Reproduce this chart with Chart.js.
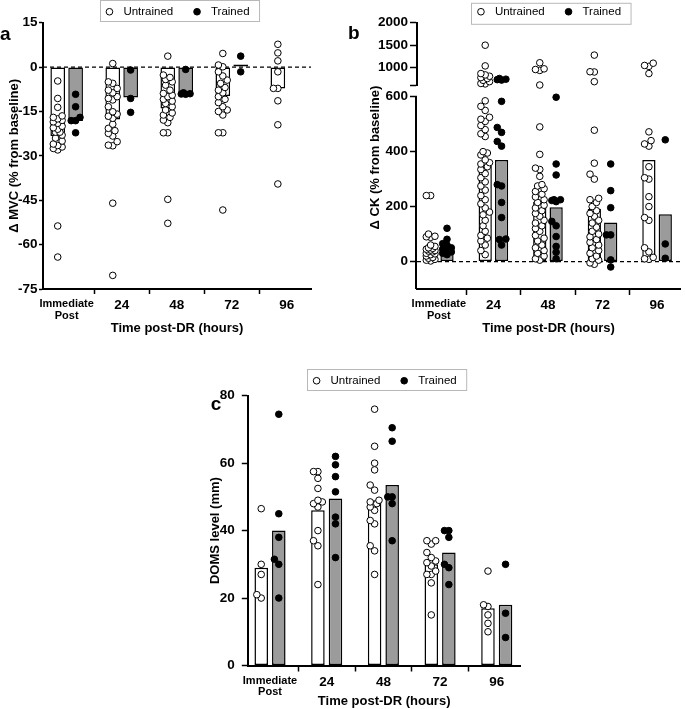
<!DOCTYPE html>
<html>
<head>
<meta charset="utf-8">
<title>Muscle damage after downhill running</title>
<script src="https://cdn.jsdelivr.net/npm/chart.js@4.4.1/dist/chart.umd.min.js"></script>
<style>
  html, body { margin: 0; padding: 0; background: #fff; }
  #figure { position: relative; width: 685px; height: 709px; overflow: hidden; }
  .panel { position: absolute; }
  .panel canvas { display: block; }
</style>
</head>
<body>
<div id="figure">
  <div class="panel" style="left:0;top:0"><canvas id="mvcChart" width="340" height="340"></canvas></div>
  <div class="panel" style="left:340px;top:0"><canvas id="ckChart" width="345" height="340"></canvas></div>
  <div class="panel" style="left:180px;top:369px"><canvas id="domsChart" width="360" height="340"></canvas></div>
</div>
<script>
"use strict";

const FONT = "'Liberation Sans', Arial, Helvetica, sans-serif";
const GREY = "#9b9b9b";

// ---------- Data ----------
const timePoints = ["Immediate Post", "24", "48", "72", "96"];
const groupNames = ["Untrained", "Trained"];

// (a) change in MVC, % from baseline
const mvcTicks = [-75, -60, -45, -30, -15, 0, 15];
const mvcMeanUntrained = [-23.3, -17.7, -14, -9.8, -7.2];
const mvcMeanTrained = [-18.2, -10.3, -9, 0.9, null];
const mvcUntrained = [
  [-4.7, -10.6, -13.6, -16.5, -17, -17.5, -18, -18.5, -19, -20, -20.5, -21, -22, -22, -23, -24, -25, -26, -26.5, -27, -27.5, -28, -53.7, -64.2],
  [1.2, -5, -5.5, -7.2, -7.8, -8.7, -10, -10.6, -11.1, -13.4, -15.1, -15.9, -16.6, -17.3, -19.3, -20.7, -21.5, -22.4, -23.3, -25.2, -26.4, -26.6, -46, -70.4],
  [3.7, -2.7, -3.5, -4.2, -5, -6.1, -7.8, -8.9, -9.5, -10, -10.9, -11.5, -12.3, -13.4, -14.5, -15.5, -16.2, -17, -17.9, -18.8, -22.2, -22.2, -44.7, -52.8],
  [4.6, 0.7, 0.1, -1.6, -3, -4.4, -5.5, -6.9, -7.8, -8.7, -10, -10.9, -12, -13.4, -14.5, -15, -16.2, -22.2, -22.2, -48.3],
  [7.7, 4.8, 2.1, -1.6, -7.2, -7.2, -11.4, -19.5, -39.5]
];
const mvcTrained = [
  [-9.2, -13.4, -17, -18.1, -18.1, -22.2],
  [-1, -10.6, -15.3],
  [-0.8, -8.7, -9, -9.1, -9.2],
  [3.7, -1.6],
  []
];

// (b) change in CK, % from baseline (broken axis above 600)
const ckTicksLow = [0, 200, 400, 600];
const ckTicksHigh = [1000, 1500, 2000];
const ckBreak = 600;
const ckMeanUntrained = [46, 349, 218, 192, 370];
const ckMeanTrained = [49, 370, 198, 142, 172];
const ckUntrained = [
  [240, 240, 100, 92, 90, 88, 60, 55, 50, 48, 45, 42, 40, 38, 35, 30, 28, 25, 20, 15, 12, 8, 5, 2],
  [1500, 1040, 870, 840, 810, 780, 760, 720, 690, 650, 640, 585, 565, 550, 525, 518, 510, 495, 480, 465, 455, 400, 395, 388, 370, 360, 355, 345, 335, 320, 305, 290, 275, 260, 240, 225, 210, 195, 180, 170, 150, 130, 110, 95, 85, 75, 60, 40, 25],
  [1110, 975, 960, 940, 615, 490, 390, 340, 335, 310, 280, 275, 265, 255, 245, 235, 225, 215, 205, 195, 185, 175, 165, 150, 140, 130, 120, 110, 95, 85, 75, 60, 50, 40, 30, 20, 10, 5],
  [1280, 910, 905, 690, 478, 358, 318, 300, 230, 225, 215, 200, 185, 175, 165, 150, 140, 125, 110, 100, 90, 80, 70, 60, 50, 40, 30, 20, 10, 5, -5, -10],
  [1100, 1050, 1030, 870, 472, 440, 428, 420, 345, 305, 300, 236, 200, 160, 150, 50, 35, 15, 10, 8]
];
const ckTrained = [
  [121, 81, 65, 60, 50, 45, 40, 35, 30, 25],
  [760, 745, 735, 725, 583, 488, 470, 437, 420, 280, 275, 215, 160, 82, 80, 60],
  [598, 355, 315, 225, 222, 218, 225, 146, 130, 91, 55, 34, 10],
  [355, 258, 196, 97, 97, 6, -20],
  [443, 64, 12]
];

// (c) DOMS level, mm
const domsTicks = [0, 20, 40, 60, 80];
const domsMeanUntrained = [29, 46, 49, 30, 17];
const domsMeanTrained = [40, 49.5, 53.5, 33.5, 18];
const domsUntrained = [
  [46.5, 30, 27, 21, 20],
  [57.5, 57.5, 55.5, 52.5, 49, 48.5, 48, 47, 40, 37, 35.5, 24],
  [76, 65, 60, 58, 53.5, 52, 49, 48.5, 48, 47, 46, 43, 42, 35.5, 34, 27],
  [37, 37, 36, 33.5, 32, 31, 30.5, 29.5, 28, 27, 27, 24.5, 15],
  [28, 18, 17.5, 15, 12.5, 10]
];
const domsTrained = [
  [74.5, 45, 38, 31.5, 30, 20],
  [62, 59.5, 56, 51.5, 44, 42, 32],
  [70.5, 66.5, 50, 50, 48, 37],
  [40, 40, 38, 30, 29, 24],
  [30, 15.5, 8.3]
];

// ---------- Helpers ----------
function timeLabel(v) {
  const t = timePoints[v];
  return t && t.includes(" ") ? t.split(" ") : t;
}

function xAxis(o) {
  return {
    type: "linear", min: o.min, max: o.max, offset: false,
    afterBuildTicks: s => { s.ticks = timePoints.map((_, i) => ({ value: i })); },
    afterFit: s => { s.height = o.height; },
    ticks: {
      autoSkip: false, maxRotation: 0, padding: o.labelPad, color: "#000",
      font: c => ({ family: FONT, weight: "bold", size: c.index === 0 ? 11 : 13.5, lineHeight: 1.05 }),
      callback: v => timeLabel(v)
    },
    grid: { drawOnChartArea: false, drawTicks: true, tickLength: o.tickLen, tickWidth: 1.5, tickColor: "#000" },
    border: { color: "#000", width: 2 },
    title: {
      display: true, text: "Time post-DR (hours)", color: "#000",
      font: { family: FONT, weight: "bold", size: 13 }, padding: { top: 0, bottom: o.titlePad }
    }
  };
}

function yAxis(o) {
  return {
    type: "linear", position: "left", min: o.min, max: o.max,
    stack: o.stack, stackWeight: o.weight,
    afterBuildTicks: s => { s.ticks = o.ticks.map(value => ({ value })); },
    afterFit: s => { s.width = o.width; },
    ticks: {
      autoSkip: false, padding: o.labelPad, color: "#000",
      font: { family: FONT, weight: "bold", size: 13.5 },
      callback: v => (o.blank && o.blank.includes(v) ? "" : v)
    },
    grid: { drawOnChartArea: false, drawTicks: true, tickLength: o.tickLen, tickWidth: 1.5, tickColor: "#000" },
    border: { display: o.border !== false, color: "#000", width: 2 },
    title: o.title ? {
      display: true, text: o.title, align: o.titleAlign || "center", color: "#000",
      font: { family: FONT, weight: "bold", size: 13 }, padding: { top: o.titlePad, bottom: 0 }
    } : { display: false }
  };
}

function barDataset(values, fill, cp, bp) {
  return {
    type: "bar", label: "", data: values.map((y, i) => ({ x: i, y })),
    backgroundColor: fill, borderColor: "#000", borderWidth: 1.5, borderSkipped: false,
    categoryPercentage: cp, barPercentage: bp, order: 3
  };
}

function pointDataset(label, fill, yAxisID) {
  return {
    type: "scatter", label, data: [], yAxisID: yAxisID || "y",
    backgroundColor: fill, borderColor: "#000", borderWidth: 1,
    pointRadius: 3.3, pointStyle: "circle", order: 1, clip: false
  };
}

function zeroLine(xMin, xMax) {
  return {
    type: "line", label: "", data: [{ x: xMin, y: 0 }, { x: xMax, y: 0 }],
    borderColor: "#000", borderWidth: 1.3, borderDash: [4, 3], pointRadius: 0, order: 2
  };
}

// spread the dots of one column sideways, kept inside the bar width
function swarm(chart, values, center, toPixel) {
  const xs = chart.scales.x;
  const cx = xs.getPixelForValue(center);
  const minGap = 5.6, step = 2.2;
  const slots = [0, -1, 1, -2, 2];
  const placed = [];
  return values
    .map(v => ({ v, py: toPixel(v) }))
    .sort((a, b) => b.py - a.py)
    .map(p => {
      let best = cx, bestGap = -1;
      for (const s of slots) {
        const px = cx + s * step;
        let gap = Infinity;
        for (const q of placed) gap = Math.min(gap, Math.hypot(q.x - px, q.y - p.py));
        if (gap >= minGap) { best = px; break; }
        if (gap > bestGap) { bestGap = gap; best = px; }
      }
      placed.push({ x: best, y: p.py });
      return { x: xs.getValueForPixel(best), y: p.v };
    });
}

const decorPlugin = {
  id: "decor",
  afterDraw(chart, args, opts) {
    const ctx = chart.ctx;
    const boxes = chart.legend && chart.legend.legendHitBoxes;
    if (boxes && boxes.length) {
      const last = boxes[boxes.length - 1];
      const left = Math.round(boxes[0].left - 4.5) + 0.5;
      const right = last.left + last.width + 10;
      ctx.save();
      ctx.strokeStyle = "#b8b8b8";
      ctx.lineWidth = 1;
      ctx.strokeRect(left, chart.legend.top + opts.frameTop, right - left, 21);
      ctx.restore();
    }
    if (opts.breakAt !== undefined) {
      const s = chart.scales.y;
      ctx.save();
      ctx.strokeStyle = "#000";
      ctx.lineWidth = 2;
      ctx.beginPath();
      ctx.moveTo(s.right - 1, s.getPixelForValue(opts.breakAt));
      ctx.lineTo(s.right - 1, s.bottom);
      ctx.stroke();
      ctx.restore();
    }
    ctx.save();
    ctx.fillStyle = "#000";
    ctx.font = "bold 19px " + FONT;
    ctx.fillText(opts.letter, opts.letterX, opts.letterY);
    ctx.restore();
  }
};

function legendOptions(maxHeight) {
  return {
    display: true, position: "top", align: "center", fullSize: false, maxHeight,
    labels: {
      usePointStyle: true, boxWidth: 10, boxHeight: 4.7, padding: 6, color: "#000",
      font: { family: FONT, size: 11.5 },
      generateLabels: chart => Chart.defaults.plugins.legend.labels.generateLabels(chart)
        .filter(item => groupNames.includes(item.text))
        .map((item, i) => Object.assign(item, { text: " " + item.text + (i === 0 ? "    " : "") }))
    }
  };
}

function baseOptions(o) {
  return {
    responsive: false, animation: false, events: [],
    layout: { padding: { left: 0, right: o.padRight, top: 0, bottom: 0 } },
    plugins: {
      tooltip: { enabled: false },
      legend: legendOptions(o.legendHeight),
      decor: o.decor
    },
    scales: o.scales
  };
}

// ---------- Panel a: MVC ----------
function drawMvc() {
  const cp = 0.65, bp = 0.82, off = cp / 4;
  const xMin = -0.43, xMax = 4.44;
  const chart = new Chart(document.getElementById("mvcChart"), {
    type: "bar",
    data: {
      datasets: [
        barDataset(mvcMeanUntrained, "#fff", cp, bp),
        barDataset(mvcMeanTrained, GREY, cp, bp),
        pointDataset(groupNames[0], "#fff"),
        pointDataset(groupNames[1], "#000"),
        zeroLine(xMin, xMax)
      ]
    },
    options: baseOptions({
      padRight: 29, legendHeight: 22.7,
      decor: { frameTop: 0.5, letter: "a", letterX: 0, letterY: 35 },
      scales: {
        x: xAxis({ min: xMin, max: xMax, height: 51, tickLen: 5, labelPad: 4.5, titlePad: 3.5 }),
        y: yAxis({ min: -75, max: 15, ticks: mvcTicks, width: 43, tickLen: 4, labelPad: 1.5,
                   title: "\u0394 MVC (% from baseline)", titlePad: 6.5 })
      }
    }),
    plugins: [decorPlugin]
  });
  const toPx = v => chart.scales.y.getPixelForValue(v);
  chart.data.datasets[2].data = mvcUntrained.flatMap((vals, i) => swarm(chart, vals, i - off, toPx));
  chart.data.datasets[3].data = mvcTrained.flatMap((vals, i) => swarm(chart, vals, i + off, toPx));
  chart.update("none");
}

// ---------- Panel b: CK ----------
function drawCk() {
  const cp = 0.6, bp = 0.81, off = cp / 4;
  const xMin = -0.4, xMax = 4.42;
  const chart = new Chart(document.getElementById("ckChart"), {
    type: "bar",
    data: {
      datasets: [
        barDataset(ckMeanUntrained, "#fff", cp, bp),
        barDataset(ckMeanTrained, GREY, cp, bp),
        pointDataset(groupNames[0], "#fff"),
        pointDataset(groupNames[1], "#000"),
        pointDataset("", "#fff", "yTop"),
        pointDataset("", "#000", "yTop"),
        zeroLine(xMin, xMax)
      ]
    },
    options: baseOptions({
      padRight: 0, legendHeight: 22.7,
      decor: { frameTop: 3.3, letter: "b", letterX: 8, letterY: 33.3, breakAt: ckBreak },
      scales: {
        x: xAxis({ min: xMin, max: xMax, height: 51, tickLen: 6, labelPad: 3.5, titlePad: 3.5 }),
        y: yAxis({ min: -100, max: 640, ticks: ckTicksLow, stack: "ck", weight: 203.3, width: 77,
                   tickLen: 7, labelPad: 2, border: false,
                   title: "\u0394 CK (% from baseline)", titleAlign: "end", titlePad: 27.5 }),
        yTop: yAxis({ min: ckBreak, max: 2000, ticks: [ckBreak].concat(ckTicksHigh), blank: [ckBreak],
                      stack: "ck", weight: 63, width: 77, tickLen: 7, labelPad: 2 })
      }
    }),
    plugins: [decorPlugin]
  });
  const toPx = v => (v > ckBreak ? chart.scales.yTop : chart.scales.y).getPixelForValue(v);
  const un = ckUntrained.flatMap((vals, i) => swarm(chart, vals, i - off, toPx));
  const tr = ckTrained.flatMap((vals, i) => swarm(chart, vals, i + off, toPx));
  chart.data.datasets[2].data = un.filter(p => p.y <= ckBreak);
  chart.data.datasets[3].data = tr.filter(p => p.y <= ckBreak);
  chart.data.datasets[4].data = un.filter(p => p.y > ckBreak);
  chart.data.datasets[5].data = tr.filter(p => p.y > ckBreak);
  chart.update("none");
}

// ---------- Panel c: DOMS ----------
function drawDoms() {
  const cp = 0.62, bp = 0.77, off = cp / 4;
  const xMin = -0.383, xMax = 4.41;
  const chart = new Chart(document.getElementById("domsChart"), {
    type: "bar",
    data: {
      datasets: [
        barDataset(domsMeanUntrained, "#fff", cp, bp),
        barDataset(domsMeanTrained, GREY, cp, bp),
        pointDataset(groupNames[0], "#fff"),
        pointDataset(groupNames[1], "#000")
      ]
    },
    options: baseOptions({
      padRight: 20, legendHeight: 26.7,
      decor: { frameTop: 0.5, letter: "c", letterX: 30.7, letterY: 36 },
      scales: {
        x: xAxis({ min: xMin, max: xMax, height: 43.5, tickLen: 6, labelPad: 3.5, titlePad: 0 }),
        y: yAxis({ min: 0, max: 80, ticks: domsTicks, width: 68.3, tickLen: 6.5, labelPad: 7,
                   title: "DOMS level (mm)", titlePad: 28 })
      }
    }),
    plugins: [decorPlugin]
  });
  const toPx = v => chart.scales.y.getPixelForValue(v);
  chart.data.datasets[2].data = domsUntrained.flatMap((vals, i) => swarm(chart, vals, i - off, toPx));
  chart.data.datasets[3].data = domsTrained.flatMap((vals, i) => swarm(chart, vals, i + off, toPx));
  chart.update("none");
}

drawMvc();
drawCk();
drawDoms();
</script>
</body>
</html>
